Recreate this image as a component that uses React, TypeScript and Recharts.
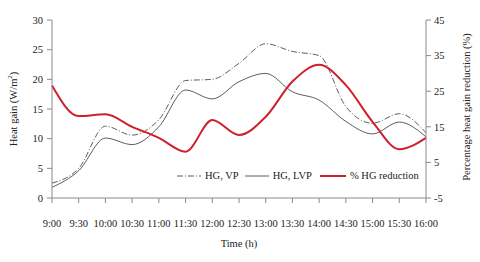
import React from 'react';
import { LineChart, Line, XAxis, YAxis, Label } from 'recharts';

const times = ['9:00', '9:30', '10:00', '10:30', '11:00', '11:30', '12:00', '12:30', '13:00', '13:30', '14:00', '14:30', '15:00', '15:30', '16:00'];
const hgVP = [2.5, 5.0, 12.1, 10.6, 13.2, 19.8, 20.0, 22.7, 26.0, 24.7, 24.0, 15.4, 12.6, 14.2, 11.0];
const hgLVP = [1.8, 4.6, 10.1, 9.0, 12.0, 18.2, 16.7, 19.6, 21.0, 17.9, 16.5, 12.9, 10.8, 12.8, 10.3];
const hgReduction = [26.6, 18.0, 18.5, 15.0, 11.9, 8.0, 16.9, 12.7, 17.8, 27.7, 32.4, 26.7, 16.4, 8.7, 11.9];
const leftTicks = [0, 5, 10, 15, 20, 25, 30];
const rightTicks = [-5, 5, 15, 25, 35, 45];

const data = times.map((t, i) => ({ time: t, vp: hgVP[i], lvp: hgLVP[i], red: hgReduction[i] }));

const FONT = '"Liberation Serif", "Times New Roman", serif';
const AXIS = '#8a8a8a';
const TXT = '#222';
const RED = '#d0202a';

const tickStyle = { fontFamily: FONT, fontSize: 10.5, fill: TXT };

const LegendBox = () => (
  <div style={{ position: 'absolute', left: 177, top: 169, display: 'flex', alignItems: 'center', fontFamily: FONT, fontSize: 10.5, color: TXT, whiteSpace: 'nowrap', lineHeight: '14px' }}>
    <svg width={24} height={8} style={{ marginRight: 4 }}>
      <line x1={0} y1={4} x2={24} y2={4} stroke="#333" strokeWidth={0.8} strokeDasharray="6 2 1 2" />
    </svg>
    <span style={{ marginRight: 6 }}>HG, VP</span>
    <svg width={24} height={8} style={{ marginRight: 4 }}>
      <line x1={0} y1={4} x2={24} y2={4} stroke="#333" strokeWidth={0.8} />
    </svg>
    <span style={{ marginRight: 8 }}>HG, LVP</span>
    <svg width={26} height={8} style={{ marginRight: 4 }}>
      <line x1={0} y1={4} x2={26} y2={4} stroke={RED} strokeWidth={2} />
    </svg>
    <span>% HG reduction</span>
  </div>
);

export default function App() {
  return (
    <div style={{ position: 'absolute', left: 0, top: 0, width: 480, height: 262, background: '#fff' }}>
      <LineChart width={480} height={262} data={data} margin={{ top: 20, right: 0, bottom: 0, left: 0 }}>
        <XAxis
          dataKey="time"
          height={64}
          stroke={AXIS}
          tickLine={{ stroke: AXIS }}
          tickSize={5}
          tickMargin={17}
          tick={tickStyle}
          interval={0}
        >
          <Label
            content={({ viewBox }: any) => (
              <text x={viewBox.x + viewBox.width / 2} y={247} textAnchor="middle" style={{ fontFamily: FONT, fontSize: 10.5, fill: TXT }}>
                Time (h)
              </text>
            )}
          />
        </XAxis>
        <YAxis
          yAxisId="left"
          orientation="left"
          width={52}
          domain={[0, 30]}
          ticks={leftTicks}
          stroke={AXIS}
          tickLine={{ stroke: AXIS }}
          tickSize={5}
          tickMargin={4}
          tick={tickStyle}
          allowDataOverflow
        >
          <Label
            content={() => (
              <text transform="translate(17,109) rotate(-90)" textAnchor="middle" style={{ fontFamily: FONT, fontSize: 10.5, fill: TXT }}>
                Heat gain (W/m
                <tspan dy={-5} fontSize={7}>2</tspan>
                <tspan dy={5}>)</tspan>
              </text>
            )}
          />
        </YAxis>
        <YAxis
          yAxisId="right"
          orientation="right"
          width={54}
          domain={[-5, 45]}
          ticks={rightTicks}
          stroke={AXIS}
          tickLine={{ stroke: AXIS }}
          tickSize={5}
          tickMargin={3}
          tick={tickStyle}
          allowDataOverflow
        >
          <Label
            content={() => (
              <text transform="translate(470,107) rotate(-90)" textAnchor="middle" style={{ fontFamily: FONT, fontSize: 10.5, fill: TXT }}>
                Percentage heat gain reduction (%)
              </text>
            )}
          />
        </YAxis>
        <Line yAxisId="left" type="monotone" dataKey="vp" name="HG, VP" stroke="#333" strokeWidth={0.8} strokeDasharray="6 2 1 2" dot={false} isAnimationActive={false} />
        <Line yAxisId="left" type="monotone" dataKey="lvp" name="HG, LVP" stroke="#333" strokeWidth={0.8} dot={false} isAnimationActive={false} />
        <Line yAxisId="right" type="monotone" dataKey="red" name="% HG reduction" stroke={RED} strokeWidth={2} dot={false} isAnimationActive={false} />
      </LineChart>
      <LegendBox />
    </div>
  );
}
